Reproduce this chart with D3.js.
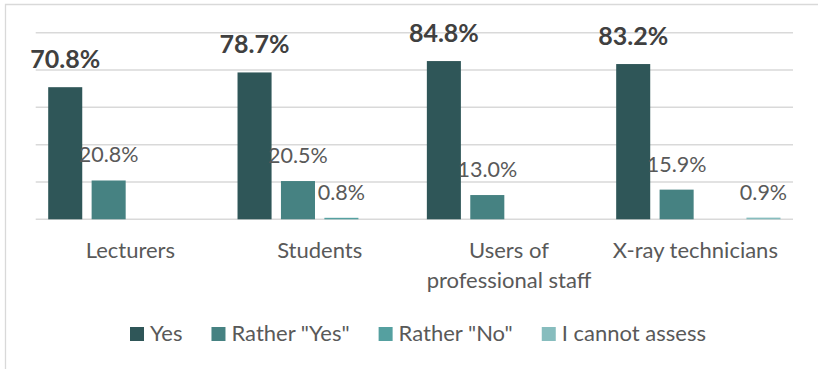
<!DOCTYPE html>
<html>
<head>
<meta charset="utf-8">
<script src="https://cdn.jsdelivr.net/npm/d3@7"></script>
<style>
  html, body { margin: 0; padding: 0; background: #fff; }
  svg { display: block; }
  text { font-family: Lato, "Noto Sans", sans-serif; }
</style>
</head>
<body>
<svg id="chart" width="818" height="369"></svg>
<script>
// Survey answers by respondent group (percent)
const categories = ["Lecturers", "Students", "Users of professional staff", "X-ray technicians"];
const seriesNames = ["Yes", "Rather \"Yes\"", "Rather \"No\"", "I cannot assess"];
const yesValues = [70.8, 78.7, 84.8, 83.2];
const ratherYesValues = [20.8, 20.5, 13.0, 15.9];
const ratherNoValues = [null, 0.8, null, null];
const cannotAssessValues = [null, null, null, 0.9];
const gridTicks = [0, 20, 40, 60, 80, 100];

const seriesValues = [yesValues, ratherYesValues, ratherNoValues, cannotAssessValues];
const colors = ["#2f5658", "#468282", "#55a0a0", "#87bdbe"];

const svg = d3.select("#chart");
const W = 818, H = 369;
const plot = { left: 35.7, right: 793, top: 32.7, bottom: 219.3 };

// chart frame (open toward the right and bottom edges)
svg.append("path")
  .attr("d", `M5.5,${H + 2} V4.5 H${W + 2}`)
  .attr("fill", "none")
  .attr("stroke", "#d9d9d9")
  .attr("stroke-width", 1.3);

const x0 = d3.scaleBand().domain(categories).range([plot.left, plot.right]).paddingInner(0).paddingOuter(0);
const outer = 12.5;
const x1 = d3.scaleBand().domain(seriesNames)
  .range([outer, x0.bandwidth() - outer])
  .paddingInner(0.216).paddingOuter(0);
const y = d3.scaleLinear().domain([0, 100]).range([plot.bottom, plot.top]);

// horizontal gridlines
svg.append("g").selectAll("line").data(gridTicks).join("line")
  .attr("x1", plot.left).attr("x2", plot.right)
  .attr("y1", d => y(d)).attr("y2", d => y(d))
  .attr("stroke", "#d9d9d9").attr("stroke-width", 1.5);

// bars and value labels
const cells = [];
seriesNames.forEach((s, si) => {
  categories.forEach((c, ci) => {
    const v = seriesValues[si][ci];
    if (v !== null && v !== undefined) cells.push({ series: s, si, cat: c, value: v });
  });
});

svg.append("g").selectAll("rect").data(cells).join("rect")
  .attr("x", d => x0(d.cat) + x1(d.series))
  .attr("width", x1.bandwidth())
  .attr("y", d => y(d.value))
  .attr("height", d => Math.max(1, y(0) - y(d.value)))
  .attr("fill", d => colors[d.si]);

svg.append("g").selectAll("text").data(cells).join("text")
  .attr("x", d => x0(d.cat) + x1(d.series) + x1.bandwidth() / 2)
  .attr("y", d => Math.min(y(d.value), y(0) - 1) - (d.si === 0 ? 19 : 18))
  .attr("text-anchor", "middle")
  .attr("font-size", d => d.si === 0 ? 25 : 21.5)
  .attr("font-weight", d => d.si === 0 ? 700 : 400)
  .attr("fill", d => d.si === 0 ? "#404040" : "#595959")
  .text(d => d.value.toFixed(1) + "%");

// category labels, wrapped to the band width
const catG = svg.append("g");
categories.forEach((c, i) => {
  const cx = x0(c) + x0.bandwidth() / 2 - (i === 3 ? 3 : 0);
  const t = catG.append("text")
    .attr("x", cx)
    .attr("y", 258)
    .attr("text-anchor", "middle")
    .attr("font-size", 22)
    .attr("fill", "#595959");
  const words = c.split(" ");
  let line = [];
  let tspan = t.append("tspan").attr("x", cx).attr("dy", 0);
  words.forEach(w => {
    line.push(w);
    tspan.text(line.join(" "));
    if (tspan.node().getComputedTextLength() > x0.bandwidth() - 10 && line.length > 1) {
      line.pop();
      tspan.text(line.join(" "));
      line = [w];
      tspan = t.append("tspan").attr("x", cx).attr("dy", 30).text(w);
    }
  });
});

// legend
const legend = svg.append("g");
const sw = 14, gapText = 6, gapItem = 29;
let cursor = 0;
seriesNames.forEach((s, i) => {
  const g = legend.append("g");
  g.append("rect").attr("x", 0).attr("y", 327).attr("width", sw).attr("height", sw).attr("fill", colors[i]);
  const t = g.append("text").attr("x", sw + gapText).attr("y", 341)
    .attr("font-size", 22).attr("fill", "#595959").text(s);
  const w = sw + gapText + t.node().getComputedTextLength();
  g.attr("transform", `translate(${cursor},0)`);
  cursor += w + gapItem;
});
const legendWidth = cursor - gapItem;
legend.attr("transform", `translate(${418 - legendWidth / 2},0)`);
</script>
</body>
</html>
